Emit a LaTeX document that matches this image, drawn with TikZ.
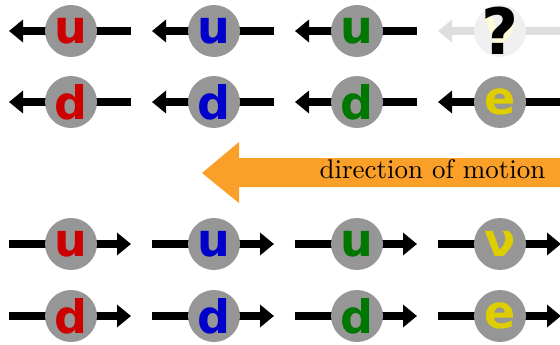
\documentclass[tikz,border=0pt]{standalone}
\usepackage{fontspec}
\newfontfamily\qf{DejaVu Sans}
\usetikzlibrary{arrows.meta}
\definecolor{ballgray}{RGB}{150,150,150}
\definecolor{qred}{RGB}{204,0,0}
\definecolor{qblue}{RGB}{0,0,204}
\definecolor{qgreen}{RGB}{0,119,0}
\definecolor{qyellow}{RGB}{222,206,0}
\definecolor{motion}{RGB}{250,160,40}
\definecolor{fadegray}{RGB}{240,240,240}
\definecolor{fadeline}{RGB}{222,222,222}
\definecolor{fadeyellow}{RGB}{255,250,215}
\tikzset{
  ball/.style={circle, fill=ballgray, minimum size=52pt, inner sep=0pt, font=\qf\bfseries\fontsize{46}{46}\selectfont},
  fadeball/.style={ball, fill=fadegray},
  track/.style={line width=8pt, draw=black, -{Triangle[length=14pt,width=22pt]}},
  fadetrack/.style={track, draw=fadeline, fill=fadeline},
  qmark/.style={inner sep=0pt, font=\qf\bfseries\fontsize{64}{64}\selectfont},
}
\begin{document}
\begin{tikzpicture}[x=1pt,y=-1pt]
\useasboundingbox (0,0) rectangle (560,345);
\clip (0,0) rectangle (560,345);
% top rows: moving left
\foreach \c/\col/\n in {71/qred/1,214/qblue/2,357/qgreen/3}{
  \coordinate (tuL\n) at (\c-62,31);
  \coordinate (tuR\n) at (\c+60,31);
  \draw[track] (tuR\n) -- (tuL\n);
  \node[ball, text=\col] (tu\n) at (\c,31) {u};
  \coordinate (tdL\n) at (\c-62,102);
  \coordinate (tdR\n) at (\c+60,102);
  \draw[track] (tdR\n) -- (tdL\n);
  \node[ball, text=\col] (td\n) at (\c,102) {d};
}
% faded unknown
\coordinate (tqL) at (438,31);
\coordinate (tqR) at (562,31);
\draw[fadetrack] (tqR) -- (tqL);
\node[fadeball, text=fadeyellow] (tq) at (500,31) {ν};
\node[qmark] (qm) at (tq) {?};
% electron top
\coordinate (teL) at (438,102);
\coordinate (teR) at (562,102);
\draw[track] (teR) -- (teL);
\node[ball, text=qyellow] (te) at (500,102) {e};
% direction of motion
\coordinate (mtip) at (202,173);
\draw[fill=motion, draw=none] (mtip) -- (239,142) -- (239,158) -- (562,158) -- (562,187) -- (239,187) -- (239,203) -- cycle;
\node[anchor=base east, inner sep=0pt, scale=2.7, transform shape, font=\fontsize{10}{12}\selectfont] (mtext) at (546,178) {direction of motion};
% bottom rows: moving right
\foreach \c/\col/\n in {71/qred/1,214/qblue/2,357/qgreen/3}{
  \coordinate (buL\n) at (\c-62,244);
  \coordinate (buR\n) at (\c+60,244);
  \draw[track] (buL\n) -- (buR\n);
  \node[ball, text=\col] (bu\n) at (\c,244) {u};
  \coordinate (bdL\n) at (\c-62,316);
  \coordinate (bdR\n) at (\c+60,316);
  \draw[track] (bdL\n) -- (bdR\n);
  \node[ball, text=\col] (bd\n) at (\c,316) {d};
}
\coordinate (bnL) at (438,244);
\coordinate (bnR) at (561,244);
\draw[track] (bnL) -- (bnR);
\node[ball, text=qyellow] (bn) at (500,244) {ν};
\coordinate (beL) at (438,316);
\coordinate (beR) at (561,316);
\draw[track] (beL) -- (beR);
\node[ball, text=qyellow] (be) at (500,316) {e};
\end{tikzpicture}
\end{document}
